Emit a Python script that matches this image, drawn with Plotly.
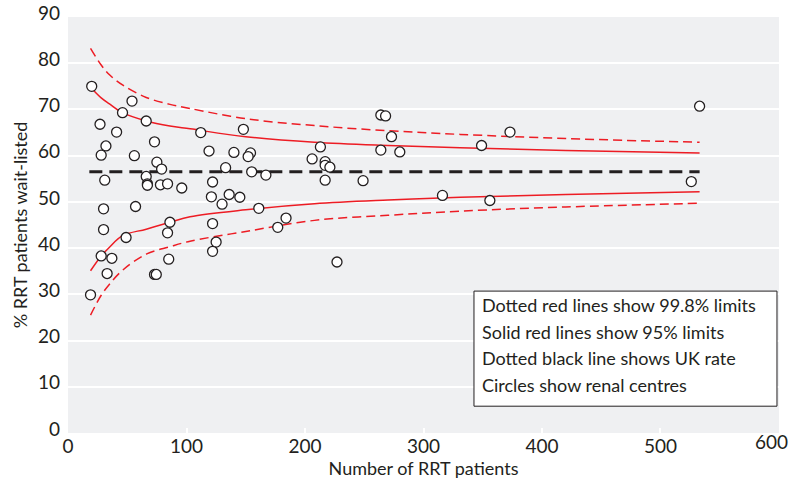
import plotly.graph_objects as go

# Renal centres: number of RRT patients and % wait-listed
centre_n = [20, 54, 46, 66, 27, 41, 73, 32, 28, 56, 75, 79, 31, 66, 67, 67, 78, 84, 96,
            30, 57, 86, 84, 30, 49, 28, 37, 85, 33, 73, 74.5, 19,
            112, 148, 119, 140, 154, 152, 206, 133, 155, 167, 122, 121, 136, 145, 130, 161,
            122, 184, 177, 125, 122,
            264, 268, 273, 213, 264, 280, 217, 217, 221, 217, 249, 316, 227,
            533, 373, 349, 526, 356]
centre_pct = [75.0, 71.8, 69.3, 67.5, 66.8, 65.1, 63.0, 62.1, 60.1, 60.0, 58.6, 57.1, 54.7, 55.5, 53.9, 53.6, 53.7, 53.9, 53.0,
              48.5, 49.0, 45.6, 43.3, 44.0, 42.3, 38.3, 37.8, 37.6, 34.5, 34.3, 34.3, 29.9,
              65.0, 65.7, 61.0, 60.7, 60.6, 59.8, 59.3, 57.4, 56.5, 55.8, 54.3, 51.1, 51.6, 51.0, 49.5, 48.6,
              45.3, 46.5, 44.5, 41.3, 39.3,
              68.8, 68.6, 64.1, 61.9, 61.2, 60.8, 58.7, 57.9, 57.5, 54.7, 54.6, 51.4, 37.0,
              70.7, 65.1, 62.2, 54.4, 50.3]

# Funnel limits
limit_n = [19, 28, 35, 46, 66, 86, 103, 150, 208, 270, 331, 420, 533]
upper_998 = [83.2, 79.6, 77.5, 75.3, 72.6, 71.1, 70.2, 68.0, 66.5, 65.4, 64.6, 63.7, 62.9]
upper_95 = [74.8, 72.5, 71.2, 69.3, 67.5, 66.4, 65.8, 64.1, 62.9, 62.2, 61.7, 61.1, 60.6]
lower_95 = [35.1, 38.3, 40.2, 42.7, 44.1, 45.6, 46.8, 48.3, 49.6, 50.4, 51.0, 51.6, 52.2]
lower_998 = [25.5, 29.8, 32.2, 35.2, 38.7, 40.3, 41.5, 43.6, 46.0, 47.1, 48.0, 48.9, 49.7]

uk_n = [18, 533]
uk_rate = [56.5, 56.5]

x_ticks = [0, 100, 200, 300, 400, 500, 600]
x_tick_labels = ["0", "100", "200", "300", "400", "500", "600"]

legend_lines = ["Dotted red lines show 99.8% limits",
                "Solid red lines show 95% limits",
                "Dotted black line shows UK rate",
                "Circles show renal centres"]

RED = "#ed1c24"
DARK = "#231f20"
FONT = "Lato"

fig = go.Figure()
for ys, dash in [(upper_998, "9px,5px"), (lower_998, "9px,5px"), (upper_95, None), (lower_95, None)]:
    fig.add_trace(go.Scatter(x=limit_n, y=ys, mode="lines",
                             line=dict(color=RED, width=1.5, dash=dash, shape="spline", smoothing=1.0),
                             hoverinfo="skip", showlegend=False))
fig.add_trace(go.Scatter(x=uk_n, y=uk_rate, mode="lines",
                         line=dict(color=DARK, width=3, dash="13px,7px"),
                         showlegend=False))
fig.add_trace(go.Scatter(x=centre_n, y=centre_pct, mode="markers",
                         marker=dict(size=10, color="white", line=dict(color=DARK, width=1.3)),
                         showlegend=False))

# legend box
fig.add_shape(type="rect", xref="x", yref="y", x0=342.6, x1=598.3, y0=5.8, y1=30.7,
              fillcolor="white", line=dict(color=DARK, width=1), layer="above")
for i, txt in enumerate(legend_lines):
    fig.add_annotation(x=347.7, y=27.7 - i * 5.77, xref="x", yref="y", text=txt,
                       showarrow=False, xanchor="left", yanchor="middle",
                       font=dict(family=FONT, size=18, color=DARK))

# last x tick label drawn as an annotation so it stays inside the page
fig.add_annotation(x=x_ticks[-1], y=0, xref="x", yref="paper", text=x_tick_labels[-1],
                   showarrow=False, xanchor="right", yanchor="top", xshift=11, yshift=5,
                   font=dict(family=FONT, size=19, color=DARK))

fig.update_layout(
    width=791, height=482,
    margin=dict(l=68, r=12, t=17, b=49),
    paper_bgcolor="white", plot_bgcolor="#eff0f2",
    font=dict(family=FONT, color=DARK),
    showlegend=False,
)
fig.update_xaxes(range=[-0.01, 600.01], tickvals=x_ticks, ticktext=x_tick_labels[:-1] + [""],
                 automargin=False,
                 showgrid=False, zeroline=False,
                 ticks="inside", ticklen=5, tickwidth=2, tickcolor="white",
                 tickfont=dict(size=19, color=DARK),
                 title=dict(text="Number of RRT patients", font=dict(size=18, color=DARK), standoff=4))
fig.update_yaxes(range=[0, 90], dtick=10, showgrid=True, gridcolor="white", gridwidth=2,
                 automargin=False,
                 zeroline=False, ticks="", ticklabelshift=-4, ticklabelstandoff=7,
                 tickfont=dict(size=19, color=DARK),
                 title=dict(text="% RRT patients wait-listed", font=dict(size=18, color=DARK), standoff=5))

fig.write_html("out.html")
